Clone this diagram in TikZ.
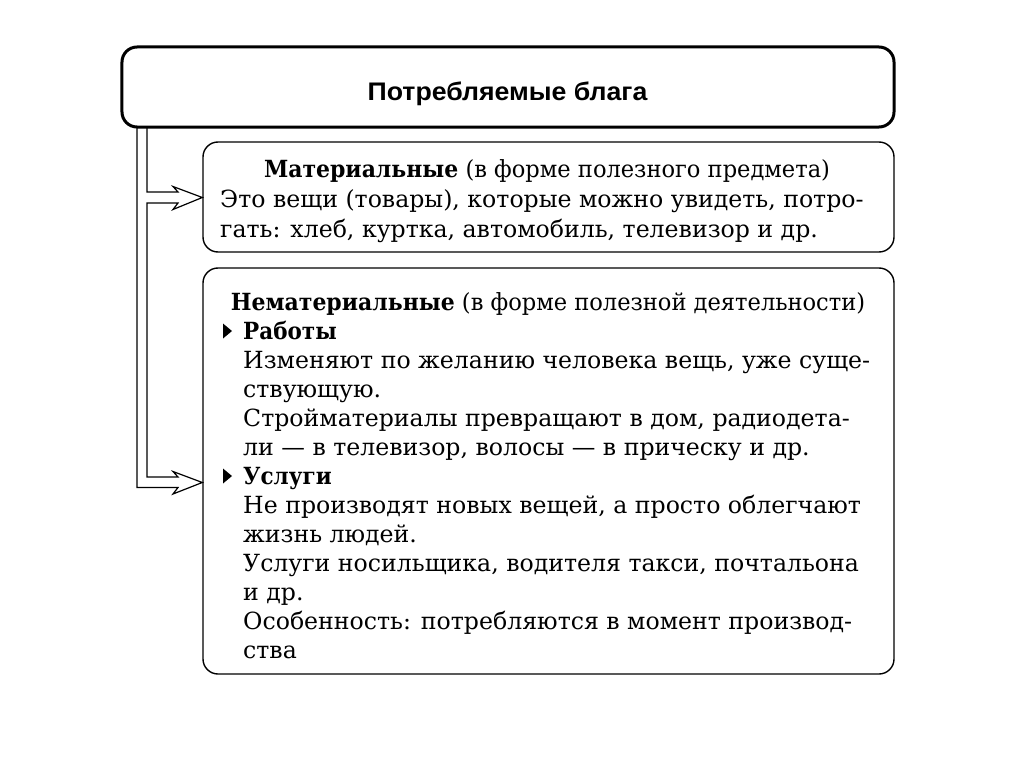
\documentclass[tikz,border=0pt]{standalone}
\usepackage{fontspec}
\setmainfont{DejaVu Serif}[BoldFeatures={FakeStretch=0.91}]
\newfontfamily\headfont{DejaVu Serif}[FakeStretch=0.955, BoldFeatures={FakeStretch=0.93}]
\newfontfamily\titlefont{Liberation Sans}[FakeStretch=1.05]
\begin{document}
\begin{tikzpicture}[x=1bp,y=-1bp,
  box/.style={draw, line width=1.4bp, rounded corners=15bp, inner sep=0pt},
  topbox/.style={draw, line width=3bp, rounded corners=15bp, inner sep=0pt},
  txt/.style={font=\fontsize{23.7}{28}\selectfont, inner sep=0pt, anchor=base west},
  ctxt/.style={font=\headfont\fontsize{23.7}{28}\selectfont, inner sep=0pt, anchor=base},
  arrowline/.style={line width=1.2bp, line join=miter},
  bul/.style={fill=black}]
\useasboundingbox (0,0) rectangle (1024,767);
\fill[white] (0,0) rectangle (1024,767);
% boxes
\node[topbox, minimum width=772bp, minimum height=80bp] (top) at (508,87) {};
\node[font=\titlefont\bfseries\fontsize{25.5}{28}\selectfont, inner sep=0pt, anchor=base] (title) at (507.5,100.7) {Потребляемые блага};
\node[box, minimum width=691bp, minimum height=110bp] (box2) at (548.5,197) {};
\node[box, minimum width=691bp, minimum height=406bp] (box3) at (548.5,471) {};
% box 2 text
\node[ctxt] (m1) at (547,177) {\textbf{Материальные} (в форме полезного предмета)};
\node[txt] (m2) at (220,207) {Это вещи (товары), которые можно увидеть, потро-};
\node[txt] (m3) at (220,237) {гать: хлеб, куртка, автомобиль, телевизор и др.};
% box 3 text
\node[ctxt] (n1) at (548,310) {\textbf{Нематериальные} (в форме полезной деятельности)};
\node[txt] (n2) at (243,339.05) {\textbf{Работы}};
\node[txt] (n3) at (243,368.1) {Изменяют по желанию человека вещь, уже суще-};
\node[txt] (n4) at (243,397.15) {ствующую.};
\node[txt] (n5) at (243,426.2) {Стройматериалы превращают в дом, радиодета-};
\node[txt] (n6) at (243,455.25) {ли — в телевизор, волосы — в прическу и др.};
\node[txt] (n7) at (243,484.3) {\textbf{Услуги}};
\node[txt] (n8) at (243,513.35) {Не производят новых вещей, а просто облегчают};
\node[txt] (n9) at (243,542.4) {жизнь людей.};
\node[txt] (n10) at (243,571.45) {Услуги носильщика, водителя такси, почтальона};
\node[txt] (n11) at (243,600.5) {и др.};
\node[txt] (n12) at (243,629.55) {Особенность: потребляются в момент производ-};
\node[txt] (n13) at (243,658.6) {ства};
% bullets
\fill[bul] (223,323.5) -- (232,331) -- (223,338.5) -- cycle;
\fill[bul] (223,468.5) -- (232,476) -- (223,483.5) -- cycle;
% double arrows
\coordinate (a1) at ([yshift=-0.5bp]box2.west);
\coordinate (a2) at ([yshift=-11.5bp]box3.west);
\draw[arrowline] (137,127) -- (137,487.5) -- (178,487.5) -- (173,494) -- (a2)
  -- (173,471.5) -- (178,477) -- (147,477) -- (147,203) -- (178,203)
  -- (173,209.5) -- (a1) -- (173,186.5) -- (178,192) -- (147,192) -- (147,127);
\end{tikzpicture}
\end{document}
